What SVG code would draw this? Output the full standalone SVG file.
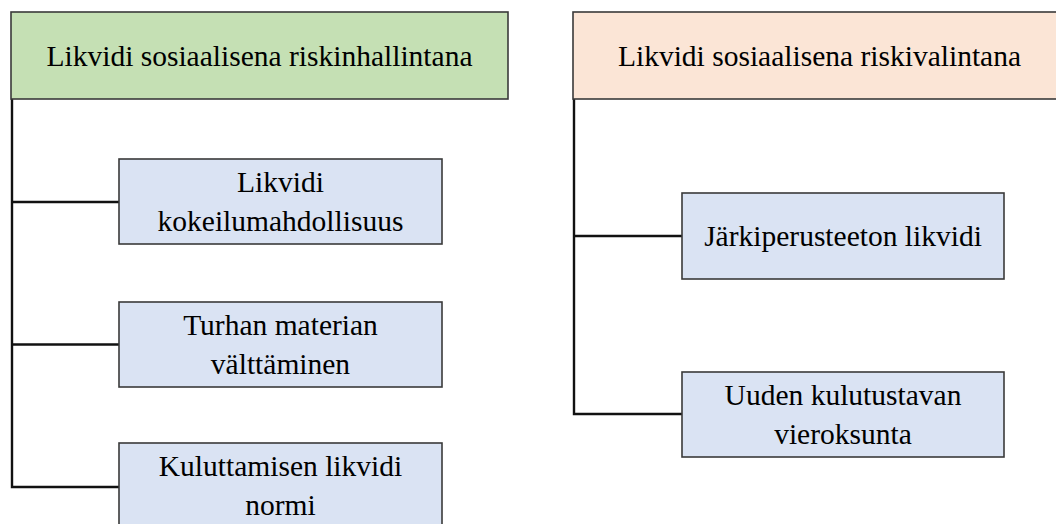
<svg xmlns="http://www.w3.org/2000/svg" width="1056" height="524" viewBox="0 0 1056 524">
<style>
.box{stroke:#3a3a3a;stroke-width:1.6}
.hg{fill:#c5e0b4}
.hp{fill:#fbe5d6}
.ch{fill:#dae3f3}
.t{font-family:'Liberation Serif','Tinos','Times New Roman','DejaVu Serif',serif;font-size:29.5px;fill:#000;text-anchor:middle}
.c{stroke:#111;stroke-width:2.4;fill:none}
</style>
<rect width="1056" height="524" fill="#fff"/>
<g id="connectors">
<path class="c" d="M12 99 V487 H119"/>
<path class="c" d="M12 202 H119"/>
<path class="c" d="M12 344.5 H119"/>
<path class="c" d="M574 99 V414 H682"/>
<path class="c" d="M574 236 H682"/>
</g>
<g id="header-left">
<rect class="box hg" x="11" y="12" width="497" height="87"/>
<text class="t" x="259.5" y="65.5">Likvidi sosiaalisena riskinhallintana</text>
</g>
<g id="header-right">
<rect class="box hp" x="573" y="12" width="493" height="87"/>
<text class="t" x="819.5" y="65.5">Likvidi sosiaalisena riskivalintana</text>
</g>
<g id="node-l1">
<rect class="box ch" x="119" y="159" width="323" height="85"/>
<text class="t" x="280.5" y="192">Likvidi</text>
<text class="t" x="280.5" y="231">kokeilumahdollisuus</text>
</g>
<g id="node-l2">
<rect class="box ch" x="119" y="302" width="323" height="85"/>
<text class="t" x="280.5" y="335">Turhan materian</text>
<text class="t" x="280.5" y="374">välttäminen</text>
</g>
<g id="node-l3">
<rect class="box ch" x="119" y="443" width="323" height="85"/>
<text class="t" x="280.5" y="476">Kuluttamisen likvidi</text>
<text class="t" x="280.5" y="515">normi</text>
</g>
<g id="node-r1">
<rect class="box ch" x="682" y="193" width="322" height="86"/>
<text class="t" x="843" y="246">Järkiperusteeton likvidi</text>
</g>
<g id="node-r2">
<rect class="box ch" x="682" y="372" width="322" height="85"/>
<text class="t" x="843" y="405">Uuden kulutustavan</text>
<text class="t" x="843" y="444">vieroksunta</text>
</g>
</svg>
